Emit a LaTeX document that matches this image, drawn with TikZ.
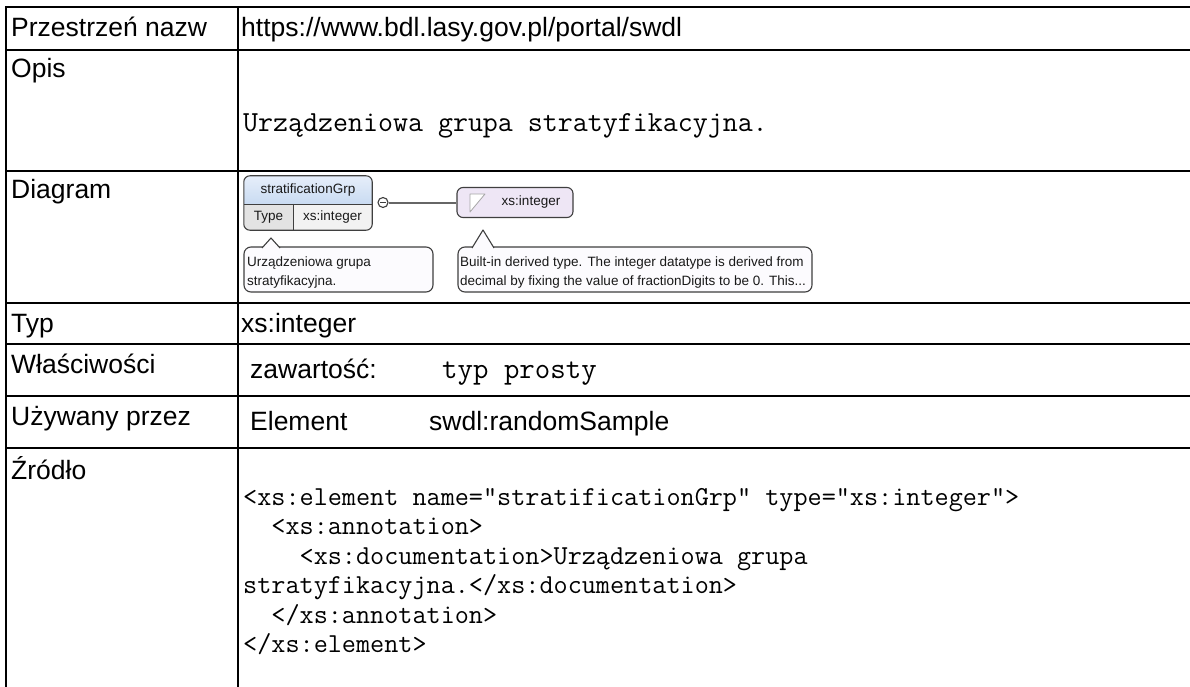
\documentclass[tikz,border=0pt]{standalone}
\usepackage{fontspec}
\setmainfont{Liberation Sans}
\usepackage{xcolor}
\usepackage{tikz}
\usetikzlibrary{calc,positioning}

\definecolor{headtop}{HTML}{E6EEFA}
\definecolor{headblue}{HTML}{C9DBF2}
\definecolor{celltype}{HTML}{E3E3E3}
\definecolor{cellval}{HTML}{F2F2F2}
\definecolor{typfill}{HTML}{EEE6F5}
\definecolor{notefill}{HTML}{FCFBFE}
\definecolor{diaedge}{HTML}{3F3F3F}
\definecolor{connline}{HTML}{666666}

\newcommand{\rowfont}{\fontsize{26.5}{30}\selectfont}
\newcommand{\descfont}{\fontsize{29.1}{30}\selectfont\ttfamily}
\newcommand{\srcfont}{\fontsize{27.4}{29.5}\selectfont\ttfamily}
\newcommand{\diafont}{\fontsize{13.5}{16}\selectfont}

\begin{document}
\begin{tikzpicture}[x=1pt,y=-1pt,line join=round,
  rule/.style={line width=2.2pt,black,line cap=rect},
  cell/.style={anchor = base west,inner sep=0pt,font=\rowfont},
  desc/.style={anchor = base west,inner sep=0pt,font=\descfont},
  src/.style={anchor = base west,inner sep=0pt,font=\srcfont},
  dia/.style={inner sep=0pt,font=\diafont,text=black!90},
  diatxt/.style={dia,anchor = base west},
  outl/.style={draw=diaedge,line width=1.1pt},
  grpcell/.style={dia,minimum height=26pt},
  typbox/.style={outl,fill=typfill,rounded corners=6pt,minimum width=116pt,minimum height=30pt,inner sep=0pt},
  notebox/.style={outl,fill=notefill,rounded corners=7pt,minimum height=45pt,inner sep=0pt},
  notetip/.style={draw=diaedge,fill=notefill,line width=1.1pt},
  conn/.style={draw=connline,line width=2pt}]
\useasboundingbox (0,0) rectangle (1190,687);
\fill[white] (0,0) rectangle (1190,687);

% table rules
\draw[rule] (6,7) -- (1190,7);
\draw[rule] (6,50) -- (1190,50);
\draw[rule] (6,171) -- (1190,171);
\draw[rule] (6,303) -- (1190,303);
\draw[rule] (6,344) -- (1190,344);
\draw[rule] (6,396) -- (1190,396);
\draw[rule] (6,448) -- (1190,448);
\draw[rule] (6,7) -- (6,687);
\draw[rule] (238,7) -- (238,687);

\node[cell] (ns) at (11,37) {Przestrzeń nazw};
\node[cell] (nsval) at (241,37) {https://www.bdl.lasy.gov.pl/portal/swdl};
\node[cell] (opis) at (11,78) {Opis};
\node[desc] (opisval) at (243,132) {Urządzeniowa grupa stratyfikacyjna.};
\node[cell] (diag) at (11,198) {Diagram};
\node[cell] (typ) at (11,332) {Typ};
\node[cell] (typval) at (241,332) {xs:integer};
\node[cell] (wlasc) at (11,373) {Właściwości};
\node[cell] (zaw) at (250,378) {zawartość:};
\node[desc,font=\fontsize{30}{30}\selectfont\ttfamily] (zawval) at (442,378) {typ prosty};
\node[cell] (uzyw) at (11,425) {Używany przez};
\node[cell] (elem) at (250,430) {Element};
\node[cell] (elemval) at (429,430) {swdl:randomSample};
\node[cell] (zrodlo) at (11,479) {Źródło};

\node[src] (src1) at (243,505) {<xs:element name=“stratificationGrp” type=“xs:integer”>};
\node[src] (src2) at (243,534.5) {\hphantom{xx}<xs:annotation>};
\node[src] (src3) at (243,564) {\hphantom{xxxx}<xs:documentation>Urządzeniowa grupa};
\node[src] (src4) at (243,593.5) {stratyfikacyjna.</xs:documentation>};
\node[src] (src5) at (243,623) {\hphantom{xx}</xs:annotation>};
\node[src] (src6) at (243,652.5) {</xs:element>};

% diagram
\begin{scope}
  \clip[rounded corners=6pt] (244,176) rectangle (372,230);
  \node[dia,top color=headtop,bottom color=headblue,minimum width=128pt,minimum height=28pt] (grp) at (308,190) {stratificationGrp};
  \node[grpcell,fill=celltype,minimum width=49pt] (grptype) at (268.5,217) {Type};
  \node[grpcell,fill=cellval,minimum width=79pt] (grpval) at (332.5,217) {xs:integer};
\end{scope}
\draw[outl,rounded corners=6pt] (grp.north west) rectangle (grpval.south east);
\draw[outl] (grp.south west) -- (grp.south east);
\draw[outl] (grptype.north east) -- (grptype.south east);

\node[outl,circle,fill=white,minimum size=10pt,inner sep=0pt] (minus) at (383,202.5) {};
\draw[diaedge,line width=0.9pt] ([xshift=-2.6pt]minus.center) -- ([xshift=2.6pt]minus.center);

\node[typbox] (xsint) at (515,202.5) {};
\filldraw[draw=gray!70,fill=white,line width=0.8pt] (470,194) -- (485,194) -- (470,212) -- cycle;
\node[dia] (xsintlbl) at (531,202.5) {xs:integer};
\draw[conn] (minus) -- (xsint);

\node[notebox,minimum width=189pt] (grpnote) at (338.5,269.5) {};
\filldraw[notetip] (262,248) -- (271,238) -- (280,248);
\node[diatxt] (grpnote1) at (247,266) {Urządzeniowa grupa};
\node[diatxt] (grpnote2) at (247,285) {stratyfikacyjna.};

\node[notebox,minimum width=354pt] (intnote) at (635,269.5) {};
\filldraw[notetip] (472,248) -- (483,230) -- (494,248);
\node[diatxt] (intnote1) at (460,266) {Built-in derived type. The integer datatype is derived from};
\node[diatxt] (intnote2) at (460,285) {decimal by fixing the value of fractionDigits to be 0. This...};
\end{tikzpicture}
\end{document}
